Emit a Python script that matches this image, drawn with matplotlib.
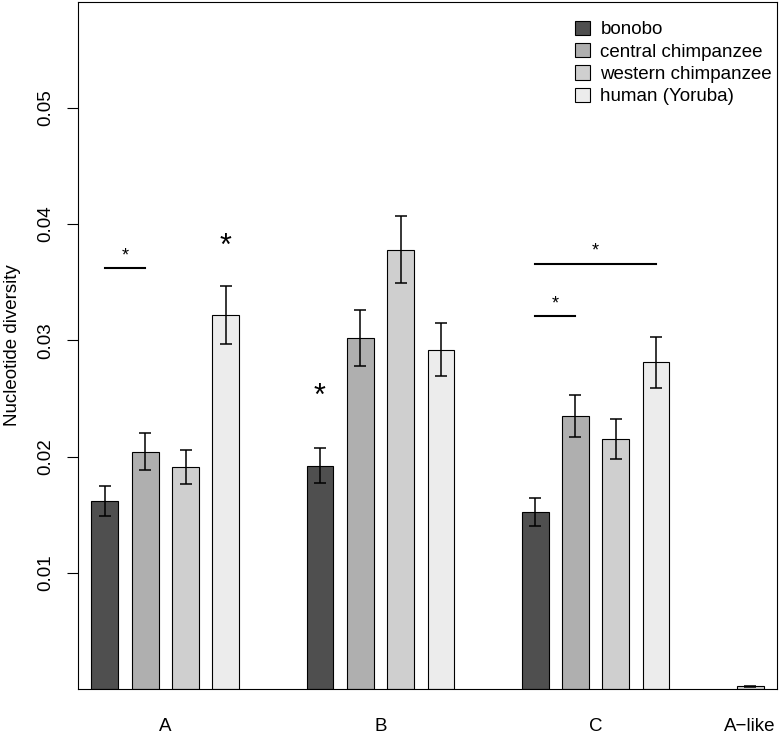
import numpy as np
import matplotlib
matplotlib.use('Agg')
from matplotlib import pyplot as plt
from matplotlib.patches import Patch

plt.rcParams['font.family'] = ['Liberation Sans', 'DejaVu Sans']

# Nucleotide diversity per haplogroup and population.
groups = ['A', 'B', 'C']
populations = ['bonobo', 'central chimpanzee', 'western chimpanzee', 'human (Yoruba)']
colors = ['#4f4f4f', '#afafaf', '#cfcfcf', '#ececec']

bonobo = [0.0162, 0.0192, 0.0152]
central = [0.0204, 0.0302, 0.0235]
western = [0.0191, 0.0378, 0.0215]
human = [0.0322, 0.0292, 0.0281]

bonobo_err = [0.0013, 0.0015, 0.0012]
central_err = [0.0016, 0.0024, 0.0018]
western_err = [0.0015, 0.0029, 0.0017]
human_err = [0.0025, 0.0023, 0.0022]

# The A-like group has one tiny bar only.
alike_label = 'A\u2212like'
alike_value = 0.00025
alike_err = 0.00005
alike_color = '#d6d6d6'

# Significance bars: (first bar, second bar, group, height)
sig_lines = [(0, 1, 0, 0.0362), (0, 3, 2, 0.03657), (0, 1, 2, 0.03207)]
# Stars over a single bar: (bar, group, height)
sig_stars = [(3, 0, 0.0380), (0, 1, 0.0251)]

values = [bonobo, central, western, human]
errors = [bonobo_err, central_err, western_err, human_err]

FS = 13.5

# bar layout: width 1, 0.5 between bars, 2.5 between groups
group_step = 8.0
bar_step = 1.5


def bar_x(i, g):
    return 1.0 + g * group_step + i * bar_step


fig = plt.figure(figsize=(7.8, 7.35), dpi=100)
ax = fig.add_axes([0.1, 0.0626, 0.8962, 0.9347])

for i in range(len(populations)):
    xs = [bar_x(i, g) for g in range(len(groups))]
    ax.bar(xs, values[i], width=1.0, color=colors[i], edgecolor='black',
           linewidth=0.8, label=populations[i], zorder=2)
    ax.errorbar(xs, values[i], yerr=errors[i], fmt='none', ecolor='black',
                elinewidth=1.1, capsize=4.2, capthick=1.1, zorder=3)

xa = bar_x(0, 3)
ax.bar([xa], [alike_value], width=1.0, color=alike_color, edgecolor='black',
       linewidth=0.8, zorder=2)
ax.errorbar([xa], [alike_value], yerr=[alike_err], fmt='none', ecolor='black',
            elinewidth=1.1, capsize=4.2, capthick=1.1, zorder=3)

for a, b, g, h in sig_lines:
    x0, x1 = bar_x(a, g), bar_x(b, g)
    ax.plot([x0, x1], [h, h], color='black', linewidth=1.5)
    ax.annotate('*', xy=((x0 + x1) / 2, h), xytext=(0, 3),
                textcoords='offset points', ha='center', va='bottom',
                fontsize=13)

for i, g, h in sig_stars:
    ax.text(bar_x(i, g), h, '*', ha='center', va='center', fontsize=22)

ax.set_xlim(0, 26.0)
ax.set_ylim(0, 0.0591)

ticks_x = [bar_x(0, g) + 1.5 * bar_step for g in range(len(groups))] + [xa]
ax.set_xticks(ticks_x)
ax.set_xticklabels(groups + [alike_label], fontsize=FS)
ax.tick_params(axis='x', length=0, pad=21)

ax.set_yticks([0.01, 0.02, 0.03, 0.04, 0.05])
ax.set_yticklabels(['0.01', '0.02', '0.03', '0.04', '0.05'], fontsize=FS,
                   rotation=90, va='center')
ax.tick_params(axis='y', length=8, width=0.8, pad=9)
ax.set_ylabel('Nucleotide diversity', fontsize=FS, labelpad=12)

for s in ax.spines.values():
    s.set_linewidth(0.8)

handles = [Patch(facecolor=c, edgecolor='black', linewidth=0.8) for c in colors]
ax.legend(handles, populations, loc='upper left', bbox_to_anchor=(0.711, 0.973),
          frameon=False, fontsize=FS, handlelength=0.8, handleheight=0.8,
          handletextpad=0.55, labelspacing=0.25, borderpad=0, borderaxespad=0)

fig.savefig('out.png', dpi=100)
